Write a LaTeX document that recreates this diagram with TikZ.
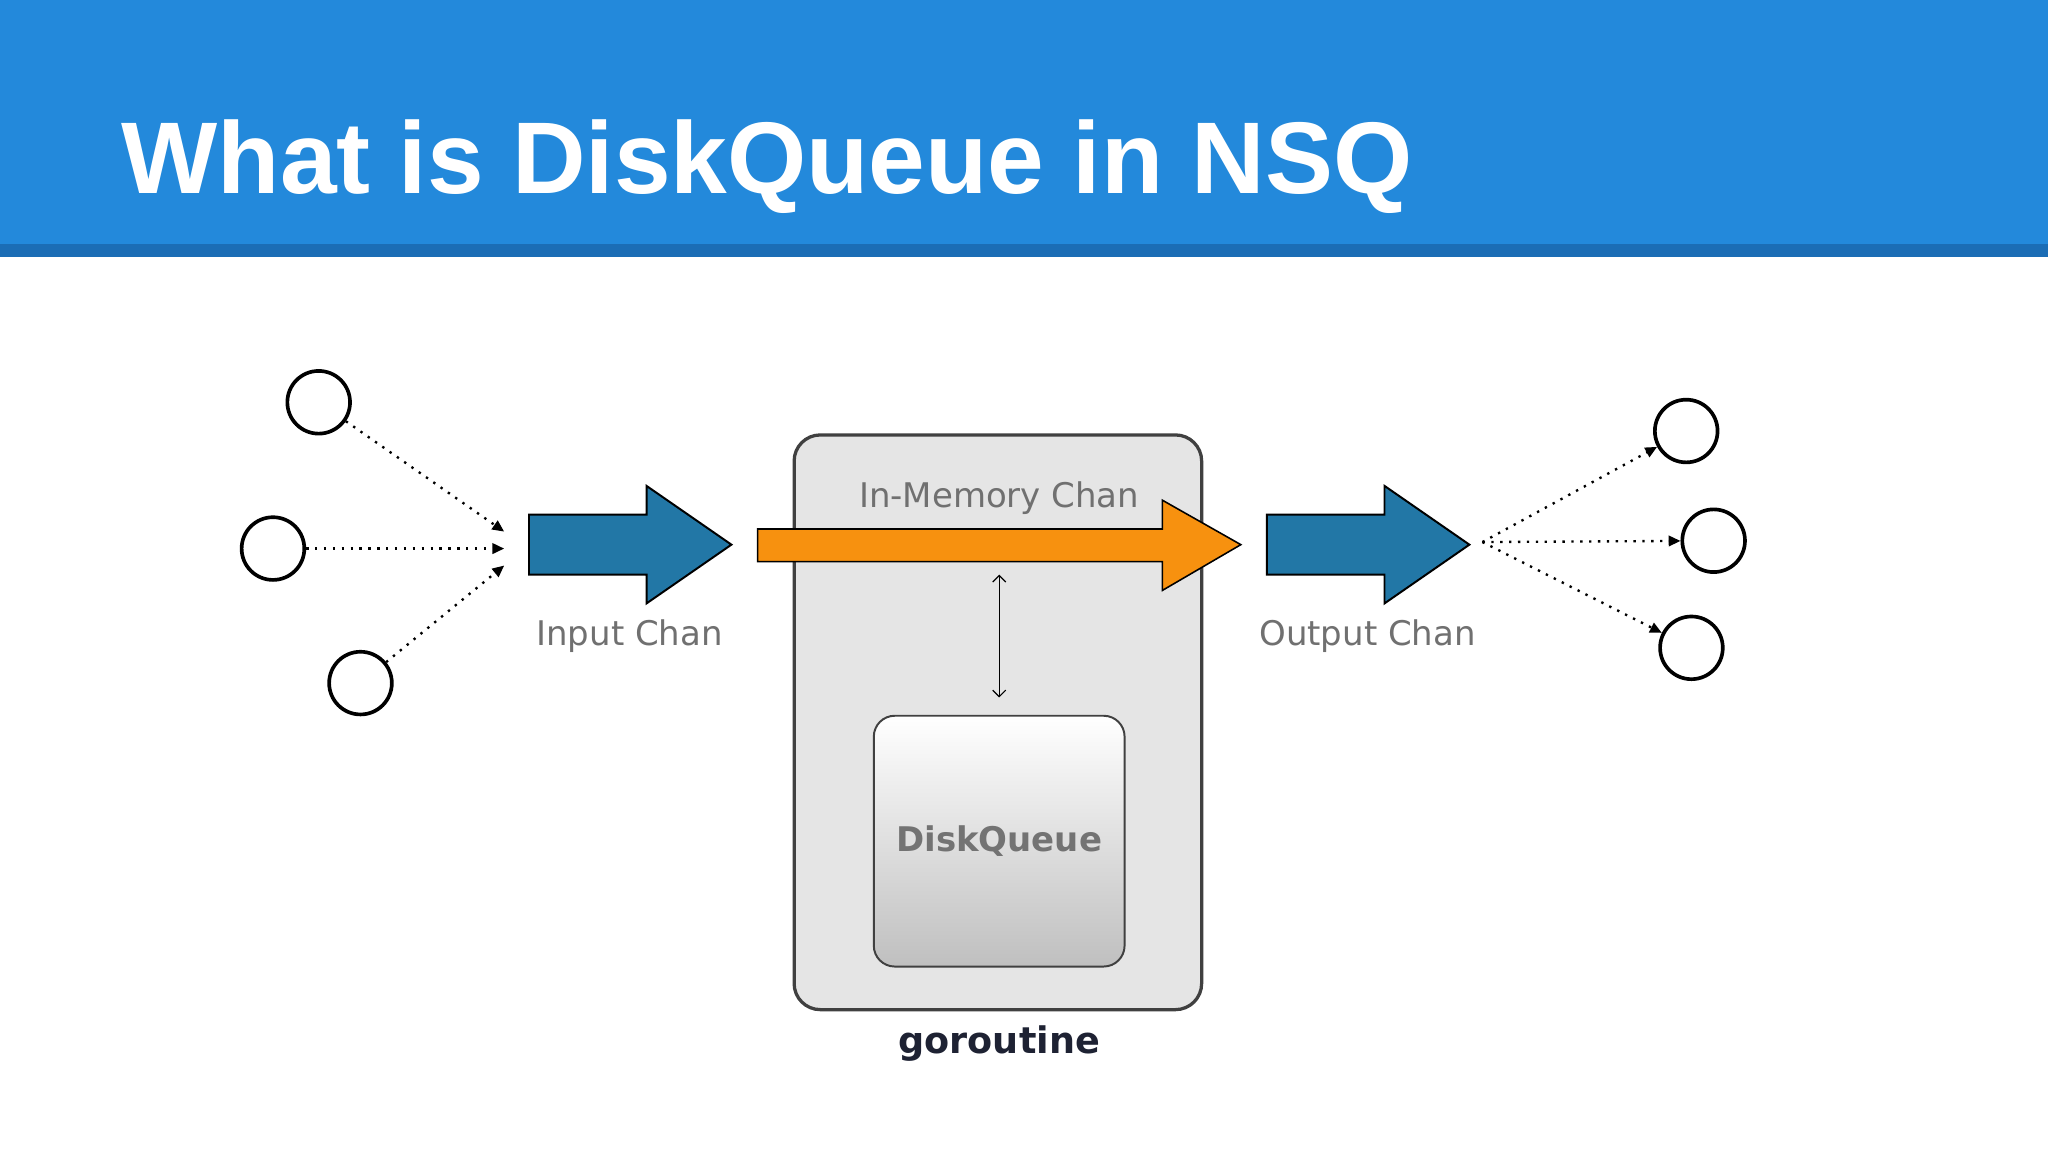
\documentclass[tikz,border=0pt]{standalone}
\usepackage{fontspec}
\setmainfont{Liberation Sans}
\newfontfamily\dv{DejaVu Sans}
\usetikzlibrary{arrows.meta}
\definecolor{hdr}{HTML}{2389DB}
\definecolor{hdrd}{HTML}{1B6DB5}
\definecolor{blu}{HTML}{2277A6}
\definecolor{org}{HTML}{F7910F}
\definecolor{txtg}{HTML}{707070}
\definecolor{navy}{HTML}{1E2233}
\begin{document}
\begin{tikzpicture}[x=1pt,y=-1pt,
  circ/.style={circle,draw=black,line width=2.8pt,minimum size=48pt,inner sep=0pt},
  dots/.style={line width=1.8pt,dash pattern=on 1.8pt off 5pt,-{Triangle[length=9pt,width=8pt]}},
  lbl/.style={text=txtg,font=\dv\fontsize{26}{30}\selectfont},
  bigarrow/.style={draw=black,line width=1.5pt,line join=miter}]
\useasboundingbox (0,0) rectangle (1568,882);
\fill[white] (0,0) rectangle (1568,882);
\fill[hdr] (0,0) rectangle (1568,189);
\fill[hdrd] (0,187) rectangle (1568,197);
\node[anchor=base west,text=white,font=\bfseries\fontsize{78}{86}\selectfont,inner sep=0] (title) at (93,148) {What is DiskQueue in NSQ};
% left circles
\node[circ] (l1) at (244,308) {};
\node[circ] (l2) at (209,420) {};
\node[circ] (l3) at (276,523) {};
\coordinate (t1) at (386,407);
\coordinate (t2) at (386,420);
\coordinate (t3) at (386,433);
\draw[dots] (l1) -- (t1);
\draw[dots] (l2) -- (t2);
\draw[dots] (l3) -- (t3);
% input arrow
\draw[bigarrow,fill=blu] (405,394) -- (495,394) -- (495,372) -- (560,417) -- (495,462) -- (495,440) -- (405,440) -- cycle;
\node[lbl] (inl) at (482,487) {Input Chan};
% goroutine box
\node[draw=black!75,line width=2.5pt,fill=black!10,rounded corners=20pt,minimum width=312pt,minimum height=440pt] (gr) at (764,553) {};
\node[font=\dv\bfseries\fontsize{28}{32}\selectfont,text=navy] (grl) at (765,799) {goroutine};
\node[lbl] (iml) at (765,381) {In-Memory Chan};
% disk queue
\shade[top color=white,bottom color=black!25,rounded corners=16pt,draw=black!75,line width=1.5pt] (669,548) rectangle (861,740);
\node[font=\dv\bfseries\fontsize{26}{30}\selectfont,text=black!55] (dq) at (765,644) {DiskQueue};
\coordinate (da) at (765,440);
\coordinate (db) at (765,534);
\draw[{Straight Barb[length=5pt]}-{Straight Barb[length=5pt]},line width=0.9pt] (da) -- (db);
% orange arrow
\draw[bigarrow,fill=org,line width=1.2pt] (580,405) -- (890,405) -- (890,383) -- (950,417) -- (890,452) -- (890,430) -- (580,430) -- cycle;
% output arrow
\draw[bigarrow,fill=blu] (970,394) -- (1060,394) -- (1060,372) -- (1125,417) -- (1060,462) -- (1060,440) -- (970,440) -- cycle;
\node[lbl] (outl) at (1047,487) {Output Chan};
% right circles
\node[circ] (r1) at (1291,330) {};
\node[circ] (r2) at (1312,414) {};
\node[circ] (r3) at (1295,496) {};
\coordinate (s) at (1135,415);
\draw[dots] (s) -- (r1);
\draw[dots] (s) -- (r2);
\draw[dots] (s) -- (r3);
\end{tikzpicture}
\end{document}
